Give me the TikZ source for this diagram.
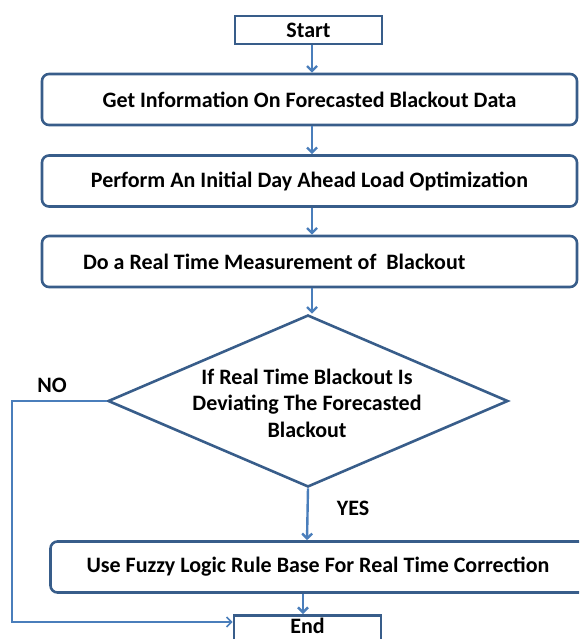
\documentclass[tikz,border=0pt]{standalone}
\usepackage{fontspec}
\setmainfont{Carlito}
\usepackage{tikz}
\usetikzlibrary{arrows.meta,shapes,positioning}
\definecolor{fcborder}{RGB}{56,93,138}
\definecolor{fcarrow}{RGB}{74,126,187}
\newcommand{\fcfont}{\bfseries\fontsize{22}{26.5}\selectfont}
\tikzstyle{arrow} = [line width=2.4pt,-{Straight Barb[length=5pt,width=10pt]},color=fcarrow]
\tikzstyle{noline} = [line width=1.6pt,-{Straight Barb[length=5pt,width=10pt]},color=fcarrow]
\tikzstyle{termbox} = [draw=fcborder, line width=2.6pt, fill=white, minimum width=147pt, minimum height=28pt, inner sep=0pt, font=\fcfont]
\tikzstyle{stepbox} = [draw=fcborder, line width=2.6pt, rounded corners=7pt, minimum width=535pt, minimum height=51pt, inner sep=0pt, font=\fcfont]
\tikzstyle{decision} = [diamond, draw=fcborder, line width=2.6pt, minimum width=400pt, minimum height=172pt, inner sep=0pt]

\begin{document}
\begin{tikzpicture}[x=1pt, y=-1pt]
\useasboundingbox (0,0) rectangle (579,639);
\clip (0,0) rectangle (579,639);

% Boxes
\node[termbox] (start) at (308.5,30) {Start};
\node[stepbox] (info) at (309.5,99.5) {Get Information On Forecasted Blackout Data};
\node[stepbox] (optim) at (309.5,181) {Perform An Initial Day Ahead Load Optimization};
\node[stepbox, text width=453pt, align=flush left, inner xsep=41pt] (measure) at (309.5,261.5) {Do a Real Time Measurement of \ Blackout};
\node[decision] (check) at (308,401) {};
\node[font=\fcfont, align=center] (checktext) at (307,403) {If Real Time Blackout Is\\Deviating The Forecasted\\Blackout};
\node[stepbox] (fuzzy) at (318,567) {Use Fuzzy Logic Rule Base For Real Time Correction};
\node[termbox, anchor=north, text height=18pt, text depth=12pt] (end) at (307.5,614) {End};

% Labels
\node[font=\fcfont] (no) at (52,385) {NO};
\node[font=\fcfont] (yes) at (353,508) {YES};

% Arrows
\draw[arrow] ([xshift=3.5pt]start.south) -- ([xshift=3.5pt]start.south |- info.north);
\foreach \a/\b in {info/optim, optim/measure, measure/check}
  \draw[arrow] ([xshift=2.5pt]\a.south) -- ([xshift=2.5pt]\a.south |- \b.north);
\draw[arrow] (check.south) -- ([xshift=-1pt]check.south |- fuzzy.north);
\draw[arrow] ([xshift=-4.5pt]end.north |- fuzzy.south) -- ([xshift=-4.5pt]end.north);

% NO branch
\coordinate (nobend) at (12,622);
\draw[noline] (check.west) -| (nobend) -- (nobend -| end.west);
\end{tikzpicture}
\end{document}
